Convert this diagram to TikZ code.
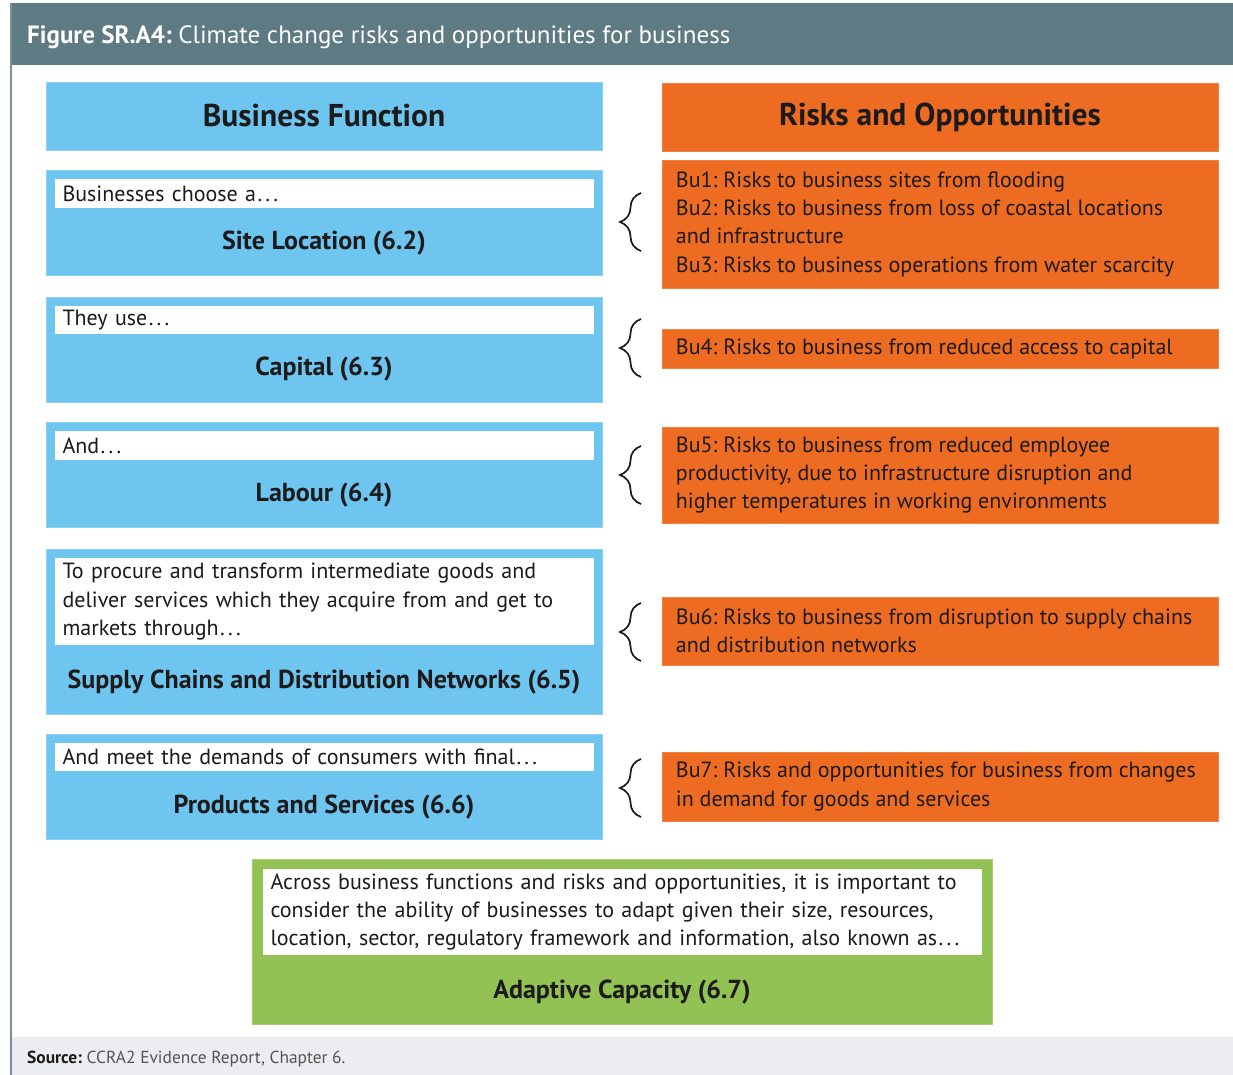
\documentclass[tikz,border=0pt]{standalone}
\usepackage{fontspec}
\setmainfont{PT Sans}
\usetikzlibrary{decorations.pathreplacing}
\definecolor{hdr}{HTML}{5E7A83}
\definecolor{bfblue}{HTML}{6EC6F0}
\definecolor{roorange}{HTML}{ED6C22}
\definecolor{acgreen}{HTML}{92C154}
\definecolor{srcgray}{HTML}{ECEDF1}
\definecolor{edge}{HTML}{7F9094}
\definecolor{ink}{HTML}{1C1A1A}
\newcommand{\spdots}{\kern1.5pt.\kern3.2pt.\kern3.2pt.}
\tikzset{
  bodyfont/.style={font=\fontsize{22}{28.3}\selectfont\frenchspacing},
  boldfont/.style={font=\fontsize{26}{30}\selectfont\bfseries},
  headfont/.style={font=\fontsize{31.5}{34}\selectfont\bfseries},
  bluebox/.style={fill=bfblue, draw=bfblue!80!white, line width=0.6pt, minimum width=556pt, inner sep=0pt},
  orangebox/.style={fill=roorange, draw=roorange!85!white, line width=0.6pt, minimum width=556pt, inner sep=0pt},
  rotext/.style={anchor=west, inner sep=0pt, align=left, text=ink, bodyfont},
  promptbox/.style={fill=white, minimum width=539pt, text width=523pt, inner xsep=8pt, inner ysep=0pt, align=left, anchor=north, text=ink, bodyfont},
  funclabel/.style={text=ink, boldfont, inner sep=0pt},
  bracemark/.style={decorate, decoration={brace, amplitude=21pt}, line width=1.7pt, ink},
}
\begin{document}
\begin{tikzpicture}[x=1pt,y=-1pt]
\useasboundingbox (0,0) rectangle (1233,1075);
% frame pieces
\fill[white] (0,0) rectangle (1233,1075);
\fill[hdr] (11,3) rectangle (1233,65);
\fill[srcgray] (11,1037) rectangle (1233,1075);
\draw[edge, line width=1.5pt] (11,3) -- (11,1075);
\node[anchor=west, text=white, font=\fontsize{25}{28}\selectfont\frenchspacing, inner sep=0pt] (title) at (27,37) {\textbf{Figure SR.A4:} Climate change risks and opportunities for business};
\node[anchor=west, text=ink!75, font=\fontsize{17.4}{20}\selectfont\frenchspacing, inner sep=0pt] (source) at (27,1059) {\textbf{\color{ink}Source:} CCRA2 Evidence Report, Chapter 6.};

% column headers
\node[bluebox, minimum height=68pt, headfont, text=ink] (bfh) at (324,116) {Business Function};
\node[orangebox, minimum height=68pt, headfont, text=ink] (roh) at (940,117) {Risks and Opportunities};

% business function boxes
\node[bluebox, minimum height=105pt] (b1) at (324,222.5) {};
\node[promptbox, minimum height=29pt] (p1) at (324,179) {Businesses choose a\spdots};
\node[funclabel] (f1) at (324,243) {Site Location (6.2)};

\node[bluebox, minimum height=105pt] (b2) at (324,349.5) {};
\node[promptbox, minimum height=28pt] (p2) at (324,306) {They use\spdots};
\node[funclabel] (f2) at (324,369) {Capital (6.3)};

\node[bluebox, minimum height=105pt] (b3) at (324,474.5) {};
\node[promptbox, minimum height=29pt] (p3) at (324,431) {And\spdots};
\node[funclabel] (f3) at (324,495) {Labour (6.4)};

\node[bluebox, minimum height=165pt] (b4) at (324,631.5) {};
\node[promptbox, minimum height=87pt] (p4) at (324,558) {To procure and transform intermediate goods and\\deliver services which they acquire from and get to\\markets through\spdots};
\node[funclabel] (f4) at (324,682) {Supply Chains and Distribution Networks (6.5)};

\node[bluebox, minimum height=105pt] (b5) at (324,786.5) {};
\node[promptbox, minimum height=28pt] (p5) at (324,743) {And meet the demands of consumers with final\spdots};
\node[funclabel] (f5) at (324,807) {Products and Services (6.6)};

% risks and opportunities boxes
\node[orangebox, minimum height=128pt] (r1) at (940,224) {};
\node[rotext] (t1) at ([xshift=14pt]r1.west) {Bu1: Risks to business sites from flooding\\Bu2: Risks to business from loss of coastal locations\\and infrastructure\\Bu3: Risks to business operations from water scarcity};
\node[orangebox, minimum height=39pt] (r2) at (940,348.5) {};
\node[rotext] (t2) at ([xshift=14pt]r2.west) {Bu4: Risks to business from reduced access to capital};
\node[orangebox, minimum height=96pt] (r3) at (940,475) {};
\node[rotext] (t3) at ([xshift=14pt]r3.west) {Bu5: Risks to business from reduced employee\\productivity, due to infrastructure disruption and\\higher temperatures in working environments};
\node[orangebox, minimum height=68pt] (r4) at (940,631) {};
\node[rotext] (t4) at ([xshift=14pt]r4.west) {Bu6: Risks to business from disruption to supply chains\\and distribution networks};
\node[orangebox, minimum height=69pt] (r5) at (940,786.5) {};
\node[rotext] (t5) at ([xshift=14pt]r5.west) {Bu7: Risks and opportunities for business from changes\\in demand for goods and services};

% braces
\foreach \c in {222,348,475,632,788}{
  \draw[bracemark] (641,\c+29) -- (641,\c-29);
}

% adaptive capacity
\node[fill=acgreen, draw=acgreen!80!white, line width=0.6pt, minimum width=740pt, minimum height=165pt, inner sep=0pt] (ac) at (622,941.5) {};
\node[fill=white, minimum width=719pt, minimum height=86pt, text width=703pt, inner xsep=8pt, inner ysep=0pt, align=left, anchor=north, text=ink, bodyfont] (acp) at (622,869) {Across business functions and risks and opportunities, it is important to\\consider the ability of businesses to adapt given their size, resources,\\location, sector, regulatory framework and information, also known as\spdots};
\node[funclabel] (acl) at (622,992) {Adaptive Capacity (6.7)};
\end{tikzpicture}
\end{document}
